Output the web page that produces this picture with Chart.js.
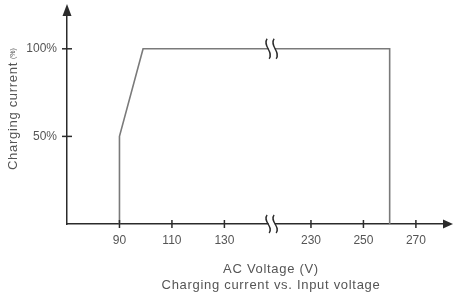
<!DOCTYPE html>
<html>
<head>
<meta charset="utf-8">
<script src="https://cdn.jsdelivr.net/npm/chart.js@4/dist/chart.umd.min.js"></script>
<style>
  html, body { margin: 0; padding: 0; background: #fff; }
  #wrap { width: 454px; height: 294px; }
</style>
</head>
<body>
<div id="wrap"><canvas id="lineChart"></canvas></div>
<script>
// dữ liệu
var voltage = [90, 90, 99, 260, 260];
var current = [0, 50, 100, 100, 0];
var xTickLabels = [90, 110, 130, 230, 250, 270];
var yTickValues = [50, 100];

// trục x bị cắt giữa 130 và 230
var BREAK_FROM = 148, BREAK_TO = 215;
function toAxis(v) {
    return v <= BREAK_FROM ? v : v - (BREAK_TO - BREAK_FROM);
}

var AXIS = '#2b2b2b', LINE = '#7a7a7a', TEXT = '#555';
var FONT = 'Liberation Sans, Arial, sans-serif';

var points = voltage.map(function (v, i) { return { x: toAxis(v), y: current[i] }; });

function squiggle(ctx, cx, cy, h) {
    // nền trắng để ngắt đường
    ctx.fillStyle = '#fff';
    ctx.fillRect(cx - 3, cy - h / 2, 6, h);
    ctx.strokeStyle = AXIS;
    ctx.lineWidth = 1.4;
    [-3.5, 3.5].forEach(function (dx) {
        var x = cx + dx;
        ctx.beginPath();
        ctx.moveTo(x - 1, cy - h / 2);
        ctx.bezierCurveTo(x - 6, cy - h / 6, x + 6, cy + h / 6, x + 1, cy + h / 2);
        ctx.stroke();
    });
}

var decor = {
    id: 'decor',
    afterDraw: function (chart) {
        var ctx = chart.ctx, xs = chart.scales.x, ys = chart.scales.y;
        var x0 = chart.chartArea.left, y0 = chart.chartArea.bottom;
        ctx.save();
        // vạch chia cắt ngang trục
        ctx.strokeStyle = AXIS;
        ctx.lineWidth = 1.5;
        xs.ticks.forEach(function (t) {
            var px = xs.getPixelForValue(t.value);
            ctx.beginPath(); ctx.moveTo(px, y0 - 4); ctx.lineTo(px, y0 + 4); ctx.stroke();
        });
        ys.ticks.forEach(function (t) {
            var py = ys.getPixelForValue(t.value);
            ctx.beginPath(); ctx.moveTo(x0 - 5, py); ctx.lineTo(x0 + 5, py); ctx.stroke();
        });
        // mũi tên
        ctx.fillStyle = AXIS;
        var yt = chart.chartArea.top;
        ctx.beginPath();
        ctx.moveTo(x0, yt - 8);
        ctx.lineTo(x0 - 4.5, yt + 4);
        ctx.lineTo(x0 + 4.5, yt + 4);
        ctx.closePath(); ctx.fill();
        var xr = chart.chartArea.right;
        ctx.beginPath();
        ctx.moveTo(xr + 3, y0);
        ctx.lineTo(xr - 7, y0 - 4.5);
        ctx.lineTo(xr - 7, y0 + 4.5);
        ctx.closePath(); ctx.fill();
        // ký hiệu ngắt trục
        var bx = xs.getPixelForValue(BREAK_FROM);
        squiggle(ctx, bx, ys.getPixelForValue(100), 20);
        squiggle(ctx, bx, y0, 18);
        // tiêu đề
        ctx.fillStyle = TEXT;
        ctx.font = '13px ' + FONT;
        ctx.letterSpacing = '0.7px';
        ctx.textAlign = 'center';
        ctx.textBaseline = 'middle';
        ctx.fillText('AC Voltage (V)', 271, 269);
        ctx.fillText('Charging current vs. Input voltage', 271, 285);
        // tiêu đề trục y
        ctx.translate(13, 170);
        ctx.rotate(-Math.PI / 2);
        ctx.textAlign = 'left';
        var w = ctx.measureText('Charging current').width;
        ctx.fillText('Charging current', 0, 0);
        ctx.font = '7px ' + FONT;
        ctx.letterSpacing = '0px';
        ctx.fillText('(%)', w + 3, 0);
        ctx.restore();
    }
};

var ctx = document.getElementById('lineChart').getContext('2d');
var chart = new Chart(ctx, {
    type: 'line',
    data: {
        datasets: [{
            data: points,
            borderColor: LINE,
            borderWidth: 1.6,
            pointRadius: 0,
            tension: 0,
            fill: false
        }]
    },
    options: {
        responsive: true,
        maintainAspectRatio: false,
        animation: false,
        layout: { padding: { left: 0, right: 4, top: 12, bottom: 47 } },
        plugins: { legend: { display: false }, tooltip: { enabled: false } },
        scales: {
            x: {
                type: 'linear',
                min: 70,
                max: 216,
                afterBuildTicks: function (scale) {
                    scale.ticks = xTickLabels.map(function (v) { return { value: toAxis(v) }; });
                },
                afterFit: function (scale) {
                    scale.height = 23;
                    scale.paddingLeft = 0;
                    scale.paddingRight = 0;
                },
                ticks: {
                    padding: 9,
                    color: TEXT,
                    font: { size: 12, family: FONT },
                    maxRotation: 0,
                    callback: function (val, i) { return String(xTickLabels[i]); }
                },
                grid: { display: false, drawTicks: false },
                border: { color: AXIS, width: 1.5 }
            },
            y: {
                min: 0,
                max: 121,
                afterBuildTicks: function (scale) {
                    scale.ticks = yTickValues.map(function (v) { return { value: v }; });
                },
                afterFit: function (scale) {
                    scale.width = 67;
                    scale.paddingTop = 0;
                    scale.paddingBottom = 0;
                },
                ticks: {
                    padding: 10,
                    color: TEXT,
                    font: { size: 12, family: FONT },
                    callback: function (val) { return val + '%'; }
                },
                grid: { display: false, drawTicks: false },
                border: { color: AXIS, width: 1.5 }
            }
        }
    },
    plugins: [decor]
});
</script>
</body>
</html>
